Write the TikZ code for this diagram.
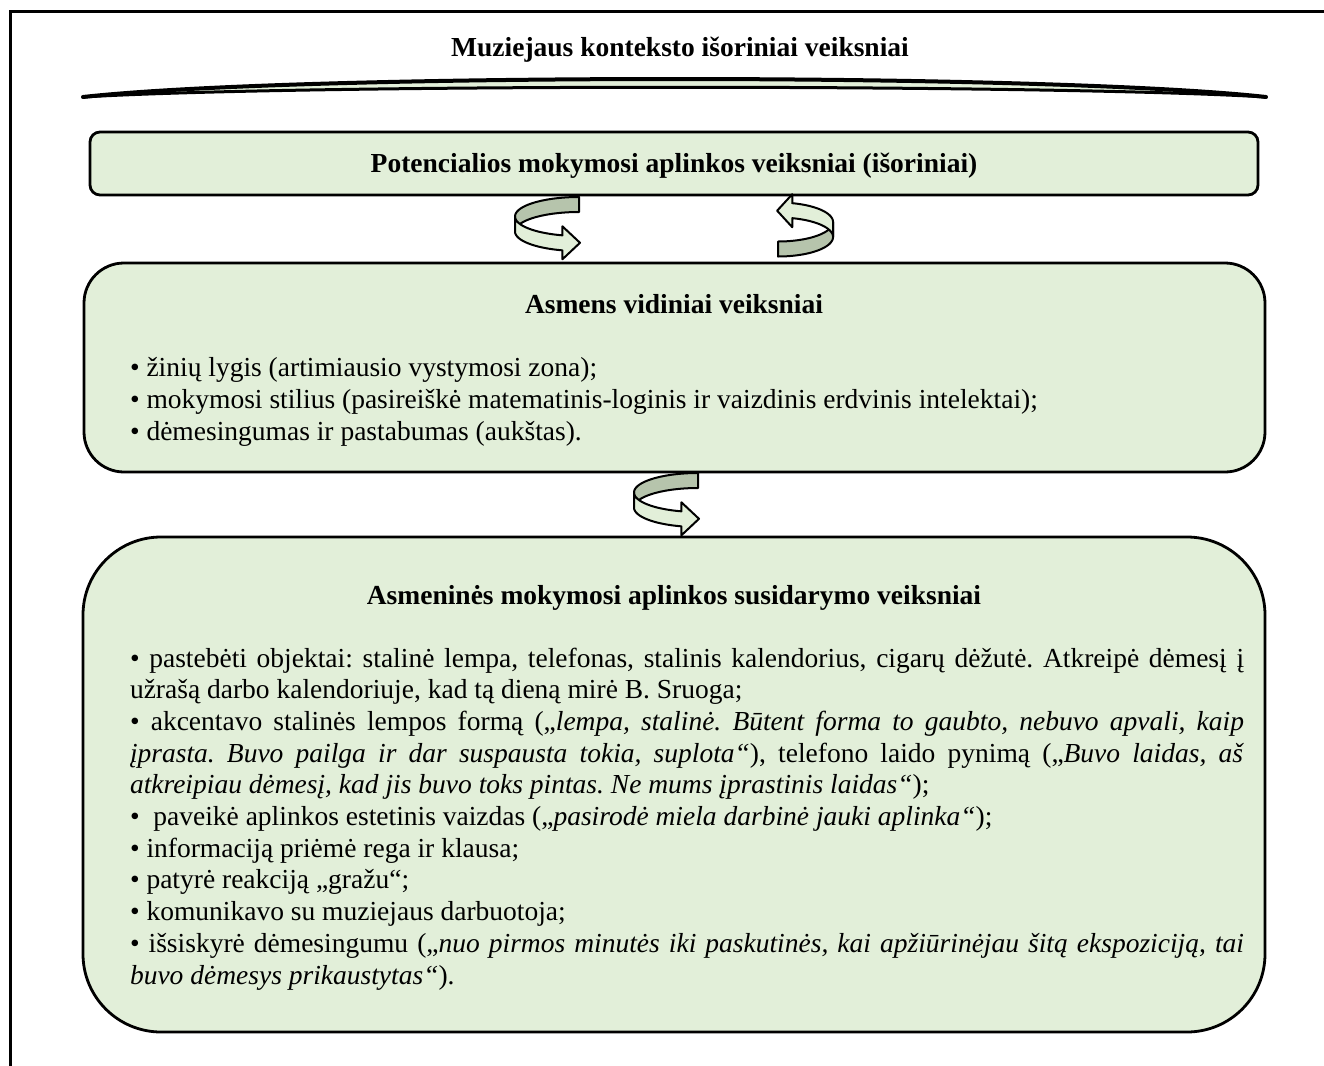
\documentclass[tikz,border=0pt]{standalone}
\usepackage{fontspec}
\setmainfont{Liberation Serif}
\frenchspacing
\definecolor{boxgreen}{HTML}{E2EFD9}
\definecolor{swirldark}{HTML}{B6C4AC}
\newlength{\textw}
\setlength{\textw}{557pt}
% a twisted ribbon arrow, drawn around the centre of its ellipse
\newcommand\drawswirl{%
  \draw[swirlline, fill=swirldark]
    plot[domain=90:180, samples=30] ({64*cos(\x)},{-19.5*sin(\x)})
    -- plot[domain=180:90, samples=30] ({64*cos(\x)},{15-19.5*sin(\x)}) -- cycle;
  \draw[swirlline, fill=boxgreen]
    plot[domain=180:255, samples=30] ({64*cos(\x)},{-19.5*sin(\x)})
    -- (-16.6,9.8) -- (1,26.3) -- (-16.6,42.8) -- (-16.6,33.8)
    -- plot[domain=255:180, samples=30] ({64*cos(\x)},{15-19.5*sin(\x)}) -- cycle;
}
\newcommand\jl[1]{\makebox[\textw][s]{#1}}
\begin{document}
\begin{tikzpicture}[x=0.5pt, y=-0.5pt,
  every node/.style={inner sep=0pt, outer sep=0pt, font=\fontsize{13.75}{15.85}\selectfont},
  panel/.style={draw=black, line width=1.4pt, fill=boxgreen, anchor=north west},
  heading/.style={anchor=base, font=\fontsize{13.75}{15.85}\selectfont\bfseries},
  txt/.style={anchor=base west},
  swirlline/.style={draw=black, line width=1pt, line join=round}]
\useasboundingbox (0,0) rectangle (1324,1066);

% frame
\draw[line width=1.5pt] (1330,11) -- (10,11) -- (10,1070);

% heading and curved banner
\node[heading] (title) at (680,56) {Muziejaus konteksto išoriniai veiksniai};
\path[fill=boxgreen] (83,97) .. controls (300,73) and (1050,73) .. (1266,97)
  .. controls (1050,84) and (300,84) .. (83,97) -- cycle;
\draw[line width=2pt, line cap=round] (83,97) .. controls (300,73) and (1050,73) .. (1266,97);
\draw[line width=1.5pt, line cap=round] (83,97) .. controls (300,84) and (1050,84) .. (1266,97);

% outer factors
\node[panel, rounded corners=5pt, minimum width=584pt, minimum height=31.5pt] (pot) at (90,132) {};
\node[heading] (potT) at (674,172) {Potencialios mokymosi aplinkos veiksniai (išoriniai)};

% inner factors
\node[panel, rounded corners=20pt, minimum width=590.5pt, minimum height=104.5pt] (inner) at (84,263) {};
\node[heading] (innerT) at (674,313) {Asmens vidiniai veiksniai};
\node[txt] (i1) at (130,376) {• žinių lygis (artimiausio vystymosi zona);};
\node[txt] (i2) at (130,408) {• mokymosi stilius (pasireiškė matematinis-loginis ir vaizdinis erdvinis intelektai);};
\node[txt] (i3) at (130,440) {• dėmesingumas ir pastabumas (aukštas).};

% personal learning environment
\node[panel, rounded corners=39pt, minimum width=591pt, minimum height=247.5pt] (pers) at (83,537) {};
\node[heading] (persT) at (674,604) {Asmeninės mokymosi aplinkos susidarymo veiksniai};
\node[txt] (p1) at (130,667) {\jl{• pastebėti objektai: stalinė lempa, telefonas, stalinis kalendorius, cigarų dėžutė. Atkreipė dėmesį į}};
\node[txt] (p2) at (130,698.7) {užrašą darbo kalendoriuje, kad tą dieną mirė B. Sruoga;};
\node[txt] (p3) at (130,730.4) {\jl{• akcentavo stalinės lempos formą („\textit{lempa, stalinė. Būtent forma to gaubto, nebuvo apvali, kaip}}};
\node[txt] (p4) at (130,762.1) {\jl{\textit{įprasta. Buvo pailga ir dar suspausta tokia, suplota“}), telefono laido pynimą („\textit{Buvo laidas, aš}}};
\node[txt] (p5) at (130,793.8) {\textit{atkreipiau dėmesį, kad jis buvo toks pintas. Ne mums įprastinis laidas“});};
\node[txt] (p6) at (130,825.5) {•\ \ paveikė aplinkos estetinis vaizdas („\textit{pasirodė miela darbinė jauki aplinka“});};
\node[txt] (p7) at (130,857.2) {• informaciją priėmė rega ir klausa;};
\node[txt] (p8) at (130,888.9) {• patyrė reakciją „gražu“;};
\node[txt] (p9) at (130,920.6) {• komunikavo su muziejaus darbuotoja;};
\node[txt] (p10) at (130,952.3) {\jl{• išsiskyrė dėmesingumu („\textit{nuo pirmos minutės iki paskutinės, kai apžiūrinėjau šitą ekspoziciją, tai}}};
\node[txt] (p11) at (130,984) {\textit{buvo dėmesys prikaustytas“}).};

% twisted arrows between the levels
\begin{scope}[shift={(579,216.5)}] \drawswirl \end{scope}
\begin{scope}[shift={(778,237)}, xscale=-0.86, yscale=-1] \drawswirl \end{scope}
\begin{scope}[shift={(698,492.5)}] \drawswirl \end{scope}
\end{tikzpicture}
\end{document}
